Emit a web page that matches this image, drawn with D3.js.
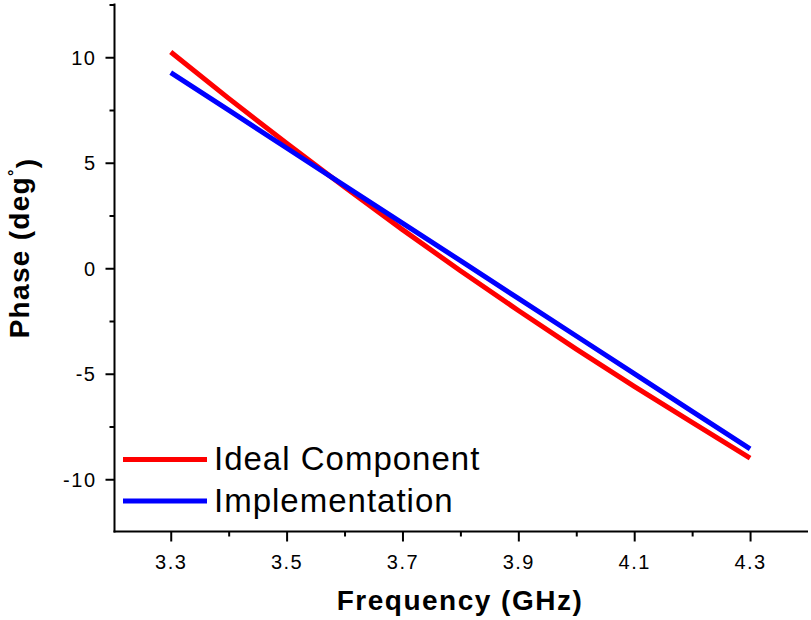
<!DOCTYPE html>
<html><head><meta charset="utf-8">
<script src="https://cdn.jsdelivr.net/npm/d3@7"></script>
<style>body{margin:0;background:#fff}</style>
</head><body><svg id="c" width="811" height="620"></svg>
<script>
const freq = [3.3, 3.4, 3.5, 3.6, 3.7, 3.8, 3.9, 4.0, 4.1, 4.2, 4.3];
const idealPhase = [10.25, 8.05, 5.92, 3.85, 1.83, -0.12, -2.00, -3.83, -5.60, -7.30, -9.0];
const implPhase = [9.27, 7.49, 5.70, 3.92, 2.14, 0.36, -1.43, -3.21, -4.99, -6.78, -8.56];
const xTicks = [3.3, 3.5, 3.7, 3.9, 4.1, 4.3];
const xMinorTicks = [3.4, 3.6, 3.8, 4.0, 4.2];
const yTicks = [-10, -5, 0, 5, 10];
const yMinorTicks = [-7.5, -2.5, 2.5, 7.5, 12.5];
const seriesNames = ["Ideal Component", "Implementation"];
const seriesColors = ["#ff0000", "#0000ff"];

const svg = d3.select("#c");
const x = d3.scaleLinear().domain([3.2, 4.4]).range([112.8, 808]);
const y = d3.scaleLinear().domain([-12.5, 12.5]).range([532, 4.5]);
const axX = 114.5, axY = 531.5;
const font = "'Liberation Sans', Arial, sans-serif";

// minor ticks
const gxm = svg.append("g").attr("transform", `translate(0,${axY})`)
  .call(d3.axisBottom(x).tickValues(xMinorTicks).tickSize(5).tickSizeOuter(0).tickFormat(""));
const gym = svg.append("g").attr("transform", `translate(${axX},0)`)
  .call(d3.axisLeft(y).tickValues(yMinorTicks).tickSize(5).tickSizeOuter(0).tickFormat(""));
[gxm, gym].forEach(g => { g.select(".domain").remove(); g.selectAll("line").attr("stroke", "#000").attr("stroke-width", 2); });

// major axes
const gx = svg.append("g").attr("transform", `translate(0,${axY})`)
  .call(d3.axisBottom(x).tickValues(xTicks).tickSize(10).tickSizeOuter(0).tickPadding(13).tickFormat(d3.format(".1f")));
const gy = svg.append("g").attr("transform", `translate(${axX},0)`)
  .call(d3.axisLeft(y).tickValues(yTicks).tickSize(9).tickSizeOuter(0).tickPadding(9).tickFormat(d => String(d)));
[gx, gy].forEach(g => {
  g.select(".domain").attr("stroke", "#000").attr("stroke-width", 2);
  g.selectAll(".tick line").attr("stroke", "#000").attr("stroke-width", 2);
  g.selectAll("text").attr("fill", "#000").style("font-family", font).style("font-size", "20px").style("letter-spacing", "1.5px");
});
gx.select(".domain").attr("d", `M${axX - 1},0H808`);
gy.select(".domain").attr("d", `M0,${y(12.5) - 1}V${axY + 1}`);
gy.selectAll("text").attr("dy", "0.35em");

// lines
const line = d3.line().x((d, i) => x(freq[i])).y(d => y(d));
[idealPhase, implPhase].forEach((s, k) => {
  svg.append("path").datum(s).attr("d", line).attr("fill", "none")
    .attr("stroke", seriesColors[k]).attr("stroke-width", 5).attr("stroke-linejoin", "round");
});

// legend
seriesNames.forEach((n, k) => {
  const by = 470 + k * 41.5;
  svg.append("line").attr("x1", 123).attr("x2", 207).attr("y1", by - 10.5).attr("y2", by - 10.5)
    .attr("stroke", seriesColors[k]).attr("stroke-width", 5);
  svg.append("text").attr("x", 214).attr("y", by).text(n)
    .style("font-family", font).style("font-size", "33px").style("letter-spacing", "1px").attr("fill", "#000");
});

// axis titles
svg.append("text").attr("x", 460).attr("y", 610).attr("text-anchor", "middle")
  .style("font-family", font).style("font-size", "28px").style("font-weight", "bold").style("letter-spacing", "1.5px")
  .text("Frequency (GHz)");
const yt = svg.append("text").attr("transform", "translate(29,248) rotate(-90)").attr("text-anchor", "middle")
  .style("font-family", font).style("font-size", "28px").style("font-weight", "bold").style("letter-spacing", "1.3px");
yt.append("tspan").text("Phase (deg");
yt.append("tspan").attr("dy", "-0.55em").style("font-size", "16px").text("°");
yt.append("tspan").attr("dy", "0.55em").text(")");
</script></body></html>
